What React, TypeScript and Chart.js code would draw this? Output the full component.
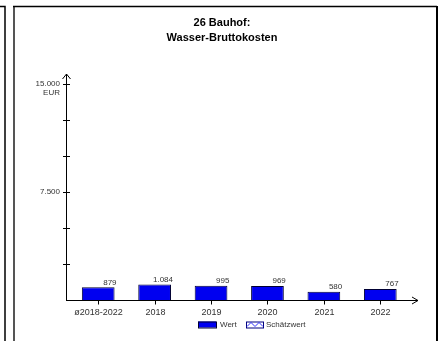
import React, { useEffect, useRef } from 'react';
import { Chart, registerables } from 'chart.js';

Chart.register(...registerables);

const categories = ['ø2018-2022', '2018', '2019', '2020', '2021', '2022'];
const values = [879, 1084, 995, 969, 580, 767];
const valueLabels = ['879', '1.084', '995', '969', '580', '767'];
const yMax = 15000;
const yStep = 2500;
const yLabeled: Record<number, string> = { 15000: '15.000', 7500: '7.500' };
const unitLabel = 'EUR';
const titleLines = ['26 Bauhof:', 'Wasser-Bruttokosten'];
const legendLabels = ['Wert', 'Schätzwert'];

const FONT = '"Liberation Sans", Arial, sans-serif';
const BAR_FILL = '#0000f0';
const BAR_EDGE = '#000033';
const TEXT = '#333333';

const decorPlugin = {
  id: 'decor',
  beforeDraw(chart: any) {
    const { ctx, width, height } = chart;
    ctx.save();
    ctx.fillStyle = '#ffffff';
    ctx.fillRect(0, 0, width, height);
    // left neighbour panel edge
    ctx.strokeStyle = '#000000';
    ctx.lineWidth = 1.5;
    ctx.beginPath();
    ctx.moveTo(0, 6.5);
    ctx.lineTo(5, 6.5);
    ctx.lineTo(5, height);
    ctx.stroke();
    // main panel frame
    ctx.strokeStyle = '#555555';
    ctx.lineWidth = 2;
    ctx.beginPath();
    ctx.moveTo(14, height);
    ctx.lineTo(14, 7);
    ctx.stroke();
    ctx.strokeStyle = '#000000';
    ctx.lineWidth = 1.5;
    ctx.beginPath();
    ctx.moveTo(13, 6.5);
    ctx.lineTo(437, 6.5);
    ctx.stroke();
    ctx.lineWidth = 2;
    ctx.beginPath();
    ctx.moveTo(437, 6);
    ctx.lineTo(437, height);
    ctx.stroke();
    // title
    ctx.fillStyle = '#000000';
    ctx.font = `bold 11px ${FONT}`;
    ctx.textAlign = 'center';
    ctx.textBaseline = 'middle';
    ctx.fillText(titleLines[0], 222, 23);
    ctx.fillText(titleLines[1], 222, 38);
    ctx.restore();
  },
  afterDatasetsDraw(chart: any) {
    const { ctx, chartArea } = chart;
    const xs = chart.scales.x;
    const ys = chart.scales.y;
    const axisX = chartArea.left - 4;
    const axisY = ys.getPixelForValue(0);
    ctx.save();
    ctx.strokeStyle = '#000000';
    ctx.lineWidth = 1;
    // y axis
    const topY = ys.getPixelForValue(yMax) - 10;
    ctx.beginPath();
    ctx.moveTo(axisX + 0.5, axisY);
    ctx.lineTo(axisX + 0.5, topY);
    ctx.moveTo(axisX - 3.5, topY + 5);
    ctx.lineTo(axisX + 0.5, topY);
    ctx.lineTo(axisX + 4.5, topY + 5);
    ctx.stroke();
    // y ticks
    for (let v = yStep; v <= yMax; v += yStep) {
      const py = Math.round(ys.getPixelForValue(v)) + 0.5;
      ctx.beginPath();
      ctx.moveTo(axisX - 3, py);
      ctx.lineTo(axisX + 4, py);
      ctx.stroke();
    }
    ctx.fillStyle = TEXT;
    ctx.font = `8px ${FONT}`;
    ctx.textAlign = 'right';
    ctx.textBaseline = 'middle';
    Object.keys(yLabeled).forEach((k) => {
      const v = Number(k);
      ctx.fillText(yLabeled[v], axisX - 6, ys.getPixelForValue(v));
    });
    ctx.fillText(unitLabel, axisX - 6, ys.getPixelForValue(yMax) + 9);
    // x axis
    const rightX = chartArea.right + 9.5;
    const ay = Math.round(axisY) + 0.5;
    ctx.beginPath();
    ctx.moveTo(axisX, ay);
    ctx.lineTo(rightX, ay);
    ctx.moveTo(rightX - 6, ay - 3.5);
    ctx.lineTo(rightX, ay);
    ctx.lineTo(rightX - 6, ay + 3.5);
    ctx.stroke();
    // x ticks + labels
    ctx.textAlign = 'center';
    ctx.font = `9px ${FONT}`;
    categories.forEach((c, i) => {
      const px = Math.round(xs.getPixelForValue(i)) + 0.5;
      ctx.beginPath();
      ctx.moveTo(px, ay);
      ctx.lineTo(px, ay + 4);
      ctx.stroke();
      ctx.fillText(c, px, ay + 12);
    });
    // value labels
    const meta = chart.getDatasetMeta(0);
    ctx.font = `8px ${FONT}`;
    ctx.textAlign = 'right';
    meta.data.forEach((bar: any, i: number) => {
      const right = bar.x + bar.width / 2;
      ctx.fillText(valueLabels[i], right + 2, bar.y - 5);
    });
    // legend
    const ly = ay + 24;
    ctx.fillStyle = BAR_FILL;
    ctx.fillRect(198, ly - 3, 18, 6);
    ctx.strokeStyle = BAR_EDGE;
    ctx.strokeRect(198.5, ly - 2.5, 18, 6);
    ctx.fillStyle = TEXT;
    ctx.textAlign = 'left';
    ctx.fillText(legendLabels[0], 220, ly);
    ctx.fillStyle = '#ffffff';
    ctx.fillRect(246, ly - 3, 17, 6);
    ctx.strokeStyle = '#000080';
    ctx.strokeRect(246.5, ly - 2.5, 17, 6);
    ctx.strokeStyle = '#3030ff';
    ctx.beginPath();
    ctx.moveTo(247, ly + 2);
    ctx.lineTo(251, ly - 2);
    ctx.lineTo(255, ly + 2);
    ctx.lineTo(259, ly - 2);
    ctx.lineTo(263, ly + 2);
    ctx.stroke();
    ctx.fillStyle = TEXT;
    ctx.fillText(legendLabels[1], 266, ly);
    ctx.restore();
  },
};

export default function App() {
  const ref = useRef<HTMLCanvasElement | null>(null);
  useEffect(() => {
    if (!ref.current) return;
    const chart = new Chart(ref.current, {
      type: 'bar',
      data: {
        labels: categories,
        datasets: [
          {
            label: legendLabels[0],
            data: values,
            backgroundColor: BAR_FILL,
            borderColor: BAR_EDGE,
            borderWidth: 1,
            borderSkipped: 'bottom',
            categoryPercentage: 1,
            barPercentage: 0.58,
          },
        ],
      },
      options: {
        animation: false,
        responsive: false,
        maintainAspectRatio: false,
        devicePixelRatio: 1,
        layout: { padding: { left: 70, right: 31.5, top: 84, bottom: 41 } },
        plugins: {
          legend: { display: false },
          title: { display: false },
          tooltip: { enabled: false },
        },
        scales: {
          x: { display: false, offset: true },
          y: { display: false, min: 0, max: yMax },
        },
      },
      plugins: [decorPlugin],
    });
    return () => chart.destroy();
  }, []);
  return (
    <div style={{ position: 'fixed', left: 0, top: 0, width: 440, height: 341 }}>
      <canvas ref={ref} width={440} height={341} style={{ width: 440, height: 341, display: 'block' }} />
    </div>
  );
}
